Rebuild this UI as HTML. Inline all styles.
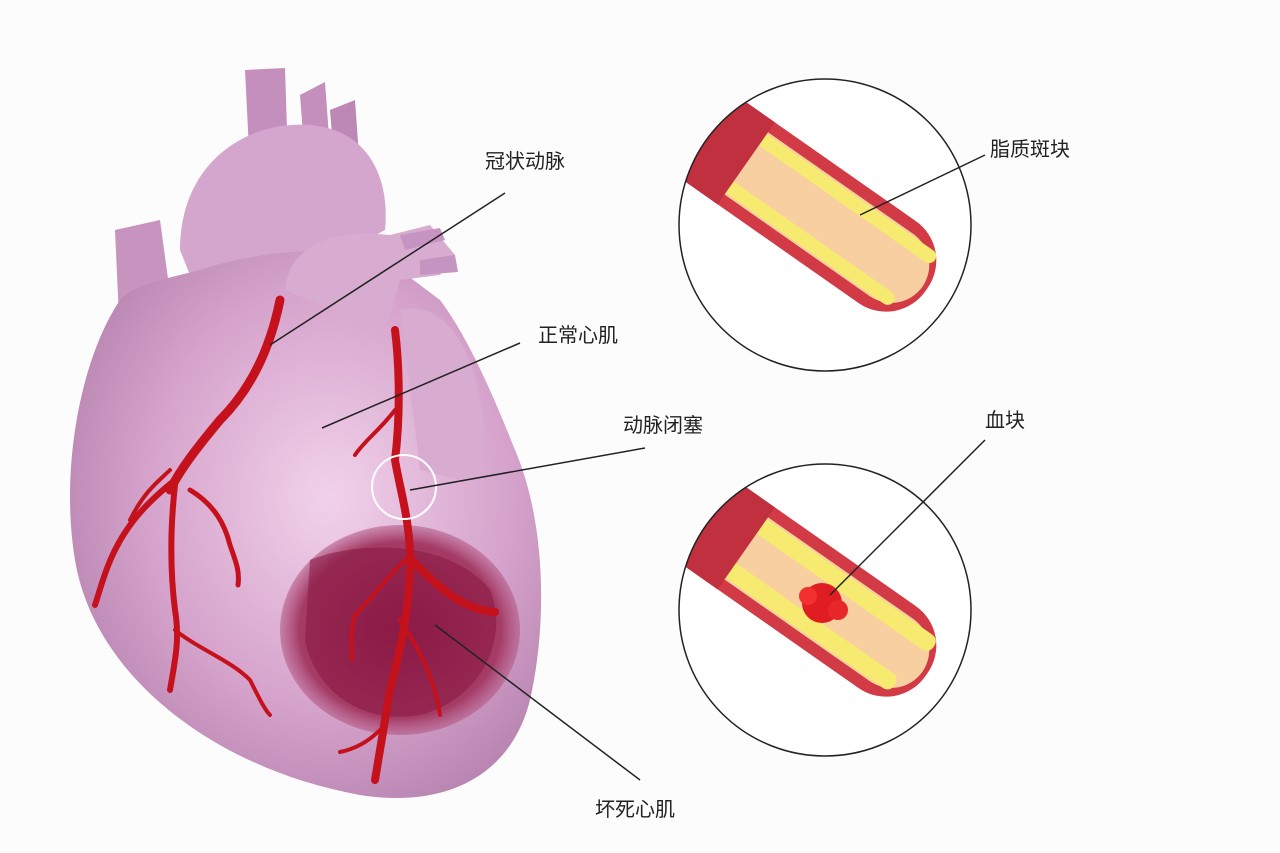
<!DOCTYPE html>
<html><head><meta charset="utf-8"><style>
html,body{margin:0;padding:0;background:#fcfcfc;}
svg{display:block}
text{font-family:"Liberation Sans","Noto Sans CJK SC",sans-serif;font-size:20px;fill:#222;}
</style></head><body>
<svg width="1280" height="853" viewBox="0 0 1280 853" xmlns="http://www.w3.org/2000/svg">
<defs>
<radialGradient id="hg" cx="0.55" cy="0.45" r="0.65">
<stop offset="0" stop-color="#f1d2ea"/><stop offset="0.6" stop-color="#d5a2cb"/><stop offset="1" stop-color="#b17fab"/>
</radialGradient>
<radialGradient id="dk" cx="0.5" cy="0.5" r="0.6">
<stop offset="0" stop-color="#8e1a48"/><stop offset="0.7" stop-color="#a53c66"/><stop offset="1" stop-color="#c27aa8" stop-opacity="0"/>
</radialGradient>
<clipPath id="c1"><circle cx="825" cy="225" r="146"/></clipPath>
<clipPath id="c2"><circle cx="825" cy="610" r="146"/></clipPath>
</defs>
<rect width="1280" height="853" fill="#fcfcfc"/>
<path d="M245,70 L285,68 L288,160 L250,170Z" fill="#c48fbc"/>
<path d="M300,95 L325,82 L330,150 L305,160Z" fill="#c48fbc"/>
<path d="M330,110 L355,100 L360,170 L335,170Z" fill="#bd88b6"/>
<path d="M115,230 L160,220 L175,330 L120,340Z" fill="#c794c0"/>
<path d="M180,250 C180,160 250,120 310,125 C370,130 390,180 385,230 L330,260 L200,300Z" fill="#d4a6cd"/>
<path d="M120,300 C80,360 60,470 75,560 C95,680 220,770 360,795 C440,808 510,780 530,700 C548,620 545,520 515,450 C495,400 470,340 440,300 L400,270 C350,240 260,250 200,270 C160,280 135,285 120,300Z" fill="url(#hg)"/>
<path d="M285,290 C290,240 340,230 390,235 L430,225 L455,255 L440,275 L400,280 C395,300 390,320 380,330 Z" fill="#d8acd0"/>
<path d="M400,235 L440,228 L445,240 L405,250Z" fill="#c694c0"/>
<path d="M420,260 L455,255 L458,272 L420,275Z" fill="#c694c0"/>
<path d="M400,310 C440,300 470,340 480,400 C490,450 480,480 460,480 L420,470Z" fill="#d8acd0"/>
<ellipse cx="400" cy="630" rx="120" ry="105" fill="url(#dk)"/>
<path d="M310,560 C360,540 450,540 490,590 C510,640 480,700 420,715 C360,725 315,690 305,640Z" fill="#8a1a45" opacity="0.6"/>
<g fill="none" stroke="#c4111c" stroke-linecap="round">
<path d="M280,300 C270,350 250,390 220,420 C195,450 180,470 170,490" stroke-width="9"/>
<path d="M175,480 C150,500 130,520 115,550 C105,570 100,590 95,605" stroke-width="6"/>
<path d="M175,485 C170,530 170,570 175,610 C180,640 175,660 170,690" stroke-width="6"/>
<path d="M175,630 C200,650 230,660 250,680 C260,700 265,710 270,715" stroke-width="4"/>
<path d="M190,490 C215,505 225,525 230,545 C235,560 240,570 238,585" stroke-width="5"/>
<path d="M170,470 C160,480 145,490 130,520" stroke-width="4"/>
<path d="M395,330 C400,370 400,420 395,460 C400,490 410,520 410,560 C410,610 400,650 390,690 C385,720 380,750 375,780" stroke-width="8"/>
<path d="M395,410 C380,430 365,440 355,455" stroke-width="4"/>
<path d="M412,560 C440,590 465,610 495,612" stroke-width="8"/>
<path d="M405,560 C385,580 370,600 355,615 C350,630 352,645 352,660" stroke-width="4"/>
<path d="M400,620 C420,650 435,680 440,715" stroke-width="4"/>
<path d="M380,730 C365,745 350,750 340,752" stroke-width="4"/>
</g>
<circle cx="404" cy="487" r="32" fill="none" stroke="#fff" stroke-width="2"/>
<circle cx="825" cy="225" r="146" fill="#fff"/>
<g clip-path="url(#c1)">
<g transform="translate(820,215) rotate(35)">
<rect x="-200" y="-50" width="330" height="100" rx="48" fill="#d23a45"/>
<rect x="-190" y="-38" width="315" height="76" rx="38" fill="#f7cfa0"/>
<rect x="-150" y="-36" width="270" height="14" rx="7" fill="#f6ea70"/>
<rect x="-150" y="22" width="260" height="14" rx="7" fill="#f6ea70"/>
<rect x="-200" y="-50" width="110" height="100" fill="#c0303e"/>
</g>
</g>
<circle cx="825" cy="225" r="146" fill="none" stroke="#222" stroke-width="1.5"/>
<circle cx="825" cy="610" r="146" fill="#fff"/>
<g clip-path="url(#c2)">
<g transform="translate(820,600) rotate(35)">
<rect x="-200" y="-50" width="330" height="100" rx="48" fill="#d23a45"/>
<rect x="-190" y="-38" width="315" height="76" rx="38" fill="#f7cfa0"/>
<rect x="-150" y="-36" width="270" height="18" rx="8" fill="#f6ea70"/>
<rect x="-150" y="18" width="260" height="18" rx="8" fill="#f6ea70"/>
<rect x="-200" y="-50" width="110" height="100" fill="#c0303e"/>
</g>
<circle cx="822" cy="603" r="20" fill="#e01d22"/>
<circle cx="808" cy="596" r="9" fill="#f23030"/>
<circle cx="838" cy="610" r="10" fill="#e82828"/>
</g>
<circle cx="825" cy="610" r="146" fill="none" stroke="#222" stroke-width="1.5"/>
<g stroke="#222" stroke-width="1.5">
<line x1="505" y1="193" x2="270" y2="345"/>
<line x1="520" y1="343" x2="322" y2="428"/>
<line x1="645" y1="448" x2="410" y2="490"/>
<line x1="985" y1="155" x2="860" y2="215"/>
<line x1="985" y1="440" x2="830" y2="595"/>
<line x1="640" y1="780" x2="435" y2="625"/>
</g>
<text x="485" y="168">冠状动脉</text>
<text x="538" y="342">正常心肌</text>
<text x="623" y="432">动脉闭塞</text>
<text x="990" y="156">脂质斑块</text>
<text x="985" y="427">血块</text>
<text x="595" y="816">坏死心肌</text>
</svg>
</body></html>
